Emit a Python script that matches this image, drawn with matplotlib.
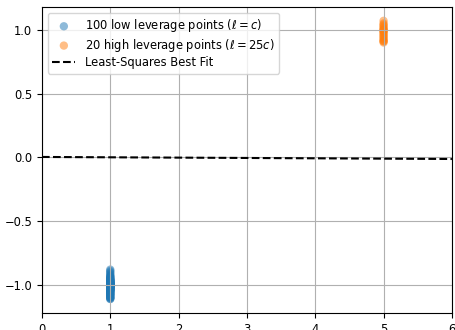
import matplotlib
matplotlib.use("Agg")
import matplotlib.pyplot as plt

# Data
low_x = [1] * 100
low_y = [-0.88, -0.90, -0.91, -0.92, -0.93, -0.93, -0.94, -0.94, -0.95, -0.95,
         -0.95, -0.96, -0.96, -0.96, -0.96, -0.97, -0.97, -0.97, -0.97, -0.97,
         -0.98, -0.98, -0.98, -0.98, -0.98, -0.98, -0.98, -0.99, -0.99, -0.99,
         -0.99, -0.99, -0.99, -0.99, -0.99, -1.00, -1.00, -1.00, -1.00, -1.00,
         -1.00, -1.00, -1.00, -1.00, -1.00, -1.00, -1.00, -1.00, -1.00, -1.00,
         -1.00, -1.00, -1.01, -1.01, -1.01, -1.01, -1.01, -1.01, -1.01, -1.01,
         -1.01, -1.02, -1.02, -1.02, -1.02, -1.02, -1.02, -1.02, -1.03, -1.03,
         -1.03, -1.03, -1.03, -1.03, -1.04, -1.04, -1.04, -1.04, -1.04, -1.05,
         -1.05, -1.05, -1.05, -1.06, -1.06, -1.06, -1.07, -1.07, -1.07, -1.08,
         -1.08, -1.08, -1.09, -1.09, -1.10, -1.10, -1.10, -1.11, -0.89, -1.11]
high_x = [5] * 20
high_y = [1.07, 1.05, 1.04, 1.03, 1.02, 1.01, 1.00, 1.00, 0.99, 0.99,
          0.98, 0.97, 0.96, 0.95, 0.94, 0.93, 0.92, 0.91, 0.91, 0.90]
fit_x = [0, 6]
fit_y = [0.003, -0.013]

labels = ["100 low leverage points ($\\ell = c$)",
          "20 high leverage points ($\\ell = 25c$)",
          "Least-Squares Best Fit"]

plt.rcParams['font.size'] = 8.3
fig, ax = plt.subplots(figsize=(4.56, 3.3), dpi=100)
ax.scatter(low_x, low_y, alpha=0.5, edgecolors='none', label=labels[0])
ax.scatter(high_x, high_y, alpha=0.5, edgecolors='none', label=labels[1])
ax.plot(fit_x, fit_y, 'k--', label=labels[2])
ax.set_xlim(0, 6)
ax.grid(True)
ax.legend(loc='upper left', fontsize=8.3, labelspacing=0.2)
fig.subplots_adjust(left=0.092, right=0.991, top=0.979, bottom=0.052)
fig.savefig("out.png", dpi=100)
